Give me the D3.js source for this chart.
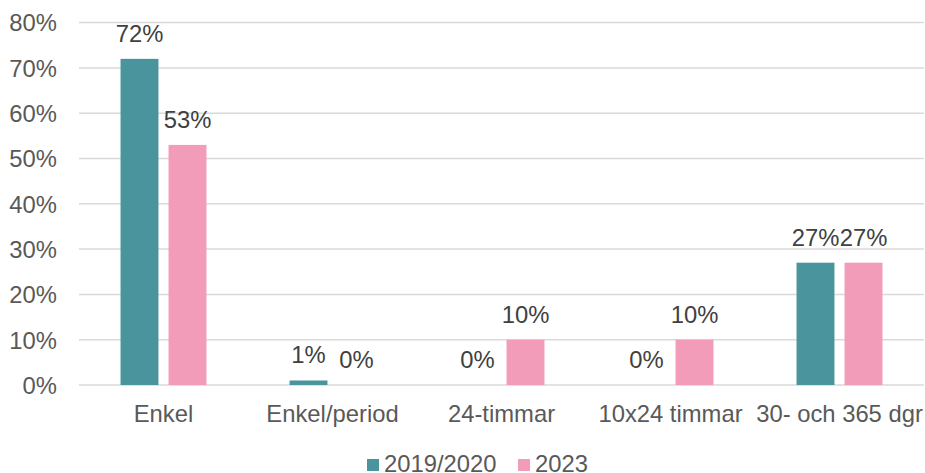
<!DOCTYPE html>
<html>
<head>
<meta charset="utf-8">
<script src="https://cdn.jsdelivr.net/npm/d3@7"></script>
<style>
  html, body { margin: 0; padding: 0; background: #fff; }
  svg { display: block; font-family: "Liberation Sans", Arial, sans-serif; }
</style>
</head>
<body>
<svg id="chart" width="925" height="473"></svg>
<script>
const categories = ["Enkel", "Enkel/period", "24-timmar", "10x24 timmar", "30- och 365 dgr"];
const seriesNames = ["2019/2020", "2023"];
const values2019 = [72, 1, 0, 0, 27];
const values2023 = [53, 0, 10, 10, 27];
const yTicks = [0, 10, 20, 30, 40, 50, 60, 70, 80];
const colors = ["#4A949E", "#F39CBA"];

(function () {
const seriesValues = [values2019, values2023];
const data = categories.map((c, i) => ({ cat: c, vals: seriesNames.map((s, j) => ({ s, v: seriesValues[j][i] })) }));

const svg = d3.select("#chart");
const m = { left: 79, right: 924, top: 22.6, bottom: 385 };
const fs = 23.8;

const x0 = d3.scaleBand().domain(categories).range([m.left, m.right]).padding(0);
const x1 = d3.scaleBand().domain(seriesNames).range([0, x0.bandwidth()]).paddingInner(0.21).paddingOuter(0.865);
const y = d3.scaleLinear().domain([0, 80]).range([m.bottom, m.top]);

// gridlines
svg.append("g").selectAll("line").data(yTicks).join("line")
  .attr("x1", m.left).attr("x2", m.right)
  .attr("y1", d => y(d)).attr("y2", d => y(d))
  .attr("stroke", "#d9d9d9").attr("stroke-width", 1.5);

// y axis labels
const yAxis = d3.axisLeft(y).tickValues(yTicks).tickFormat(d => d + "%").tickSize(0).tickPadding(0);
const yg = svg.append("g").attr("transform", `translate(57,0)`).call(yAxis);
yg.select(".domain").remove();
yg.selectAll("text").attr("font-size", fs).attr("fill", "#595959").attr("font-family", "Liberation Sans, Arial, sans-serif").attr("dy", "0.35em");

// x axis labels
const xAxis = d3.axisBottom(x0).tickSize(0).tickPadding(0);
const xg = svg.append("g").attr("transform", `translate(0,${m.bottom})`).call(xAxis);
xg.select(".domain").remove();
xg.selectAll("text").attr("font-size", fs).attr("fill", "#595959").attr("font-family", "Liberation Sans, Arial, sans-serif").attr("dy", null).attr("y", 37);

// bars
const groups = svg.append("g").selectAll("g").data(data).join("g")
  .attr("transform", d => `translate(${x0(d.cat)},0)`);
groups.selectAll("rect").data(d => d.vals).join("rect")
  .attr("x", d => x1(d.s)).attr("width", x1.bandwidth())
  .attr("y", d => y(d.v)).attr("height", d => y(0) - y(d.v))
  .attr("fill", (d, i) => colors[i]);

// data labels
groups.selectAll("text").data(d => d.vals).join("text")
  .attr("x", d => x1(d.s) + x1.bandwidth() / 2)
  .attr("y", d => y(d.v) - 17)
  .attr("text-anchor", "middle")
  .attr("font-size", fs).attr("fill", "#404040")
  .text(d => d.v + "%");

// legend
const legendX = [367, 518];
const leg = svg.append("g").selectAll("g").data(seriesNames).join("g")
  .attr("transform", (d, i) => `translate(${legendX[i]},0)`);
leg.append("rect").attr("x", 0).attr("y", 459).attr("width", 12).attr("height", 12)
  .attr("fill", (d, i) => colors[i]);
leg.append("text").attr("x", 17).attr("y", 472).attr("font-size", fs).attr("fill", "#595959").text(d => d);
})();
</script>
</body>
</html>
